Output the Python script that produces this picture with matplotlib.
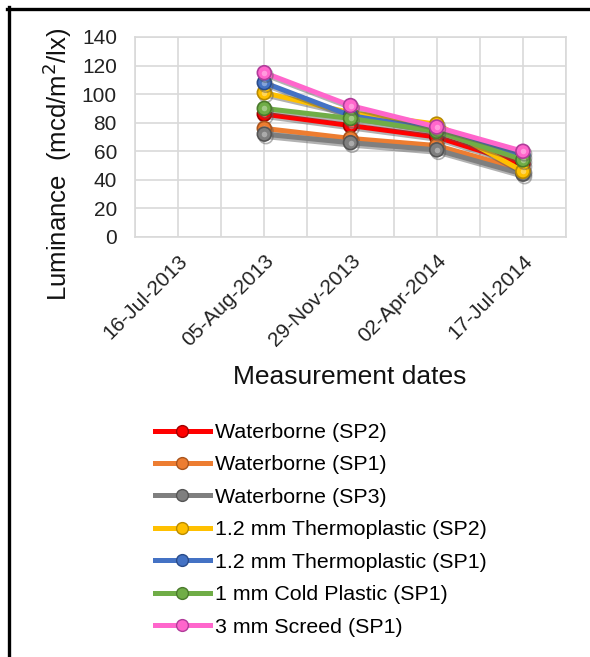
import numpy as np
import matplotlib
matplotlib.use("Agg")
import matplotlib.pyplot as plt
import matplotlib.patheffects as pe
from matplotlib.lines import Line2D

plt.rcParams['font.family'] = ['Liberation Sans', 'DejaVu Sans']

# data (16-Jul-2013 has no values)
dates = ["16-Jul-2013", "05-Aug-2013", "29-Nov-2013", "02-Apr-2014", "17-Jul-2014"]
names = ["Waterborne (SP2)", "Waterborne (SP1)", "Waterborne (SP3)",
         "1.2 mm Thermoplastic (SP2)", "1.2 mm Thermoplastic (SP1)",
         "1 mm Cold Plastic (SP1)", "3 mm Screed (SP1)"]
waterborne_sp2 = [np.nan, 86, 78, 70, 51]
waterborne_sp1 = [np.nan, 76, 69, 64, 47]
waterborne_sp3 = [np.nan, 72, 66, 61, 44]
thermo_sp2 = [np.nan, 101, 87, 79, 46]
thermo_sp1 = [np.nan, 108, 85, 75, 57]
cold_sp1 = [np.nan, 90, 83, 74, 54]
screed_sp1 = [np.nan, 115, 92, 77, 60]
series = [waterborne_sp2, waterborne_sp1, waterborne_sp3, thermo_sp2,
          thermo_sp1, cold_sp1, screed_sp1]
colors = ["#FF0000", "#ED7D31", "#7F7F7F", "#FFC000", "#4472C4", "#70AD47", "#FF66CC"]
edges = ["#A00000", "#A9541C", "#555555", "#B88A00", "#2A4C8A", "#4A7A2C", "#B03C9A"]

fig = plt.figure(figsize=(5.9, 6.57), dpi=100)
W, H = 590, 657
ax = fig.add_axes([135 / W, 1 - 237 / H, 431 / W, 200 / H])

x = np.arange(len(dates))
handles = []
for vals, name, c, ec in zip(series, names, colors, edges):
    ax.plot(x, vals, color=c, lw=3.6, marker='o', markersize=10,
            markerfacecolor=c, markeredgecolor=ec, markeredgewidth=1.2,
            path_effects=[pe.SimpleLineShadow(offset=(1.2, -1.8), shadow_color='#555555', alpha=0.45),
                          pe.Normal()])
    # little highlight on the ball markers
    ax.plot(x, vals, ls='none', marker='o', markersize=4, markerfacecolor='white',
            markeredgewidth=0, alpha=0.35)
    handles.append(Line2D([], [], color=c, lw=3.6, marker='o', markersize=8.5,
                          markerfacecolor=c, markeredgecolor=ec, markeredgewidth=1.0,
                          label=name))

ax.set_xlim(-0.5, 4.5)
ax.set_ylim(0, 140)
ax.set_yticks(np.arange(0, 141, 20))
ax.set_xticks(x)
ax.set_xticklabels(dates, rotation=45, ha='right', rotation_mode='anchor')
ax.set_xticks(np.arange(-0.5, 4.6, 0.5), minor=True)
ax.grid(True, which='both', axis='x', color='#d9d9d9', lw=1.2)
ax.grid(True, which='major', axis='y', color='#d9d9d9', lw=1.2)
ax.set_axisbelow(True)
for s in ax.spines.values():
    s.set_color('#d9d9d9')
    s.set_linewidth(1.2)
ax.tick_params(axis='both', which='both', length=0, labelsize=15, colors='#222222')
ax.tick_params(axis='y', pad=13)
ax.tick_params(axis='x', pad=10)

fig.text(57 / W, 1 - 164 / H, "Luminance  (mcd/m$^2$/lx)", rotation=90,
         ha='center', va='center', fontsize=18.5, color='#111111')
fig.text(350 / W, 1 - 377 / H, "Measurement dates", ha='center', va='center',
         fontsize=19, color='#111111')

ax.legend(handles=handles, loc='upper left', bbox_to_anchor=(155 / W, 1 - 423 / H),
          bbox_transform=fig.transFigure, frameon=False, fontsize=15.4,
          handlelength=2.55, handletextpad=0.25, labelspacing=0.63,
          borderpad=0, borderaxespad=0)

# frame lines (top and left) around the figure
fig.add_artist(Line2D([8.5 / W, 8.5 / W], [0, 1 - 7 / H], color='black', lw=2.4,
                      transform=fig.transFigure))
fig.add_artist(Line2D([7 / W, 1], [1 - 8.5 / H, 1 - 8.5 / H], color='black', lw=2.4,
                      transform=fig.transFigure))

fig.savefig("out.png", dpi=100)
